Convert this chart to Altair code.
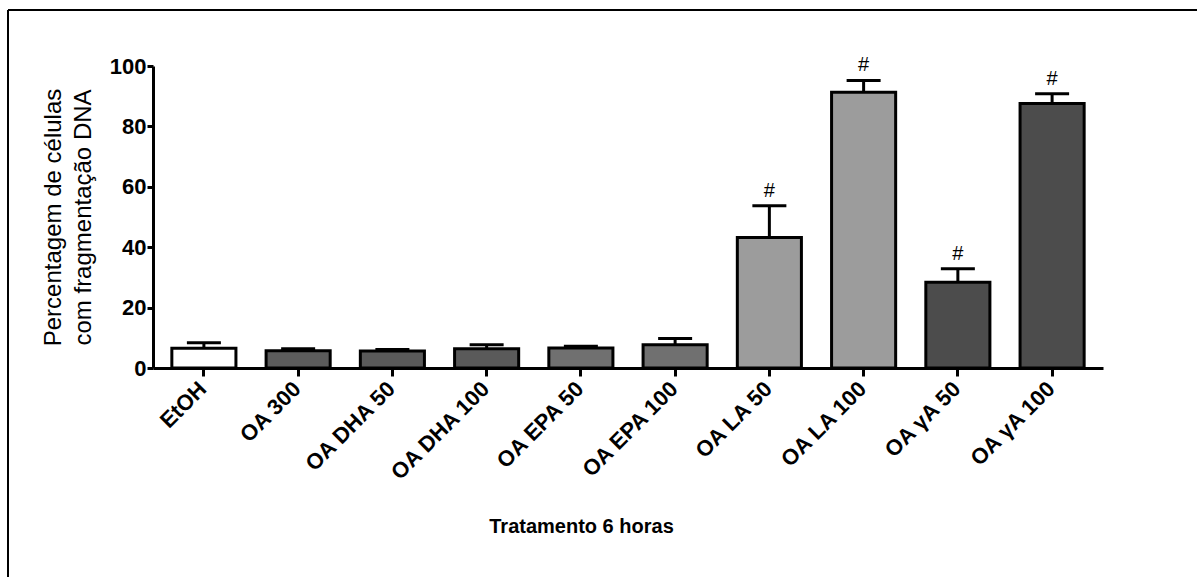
import altair as alt
import pandas as pd

# Treatments (6 h) and the percentage of cells with DNA fragmentation
categories = ["EtOH", "OA 300", "OA DHA 50", "OA DHA 100", "OA EPA 50",
              "OA EPA 100", "OA LA 50", "OA LA 100", "OA γA 50", "OA γA 100"]
means = [6.5, 5.7, 5.6, 6.4, 6.6, 7.7, 43.2, 91.3, 28.4, 87.6]
sem = [1.9, 0.7, 0.5, 1.3, 0.6, 2.1, 10.5, 3.9, 4.5, 3.2]
signif = ["", "", "", "", "", "", "#", "#", "#", "#"]
fills = ["#ffffff", "#5c5c5c", "#5a5a5a", "#5a5a5a", "#707070",
         "#707070", "#9c9c9c", "#9c9c9c", "#4c4c4c", "#4c4c4c"]

df = pd.DataFrame({
    "cat": categories,
    "mean": means,
    "upper": [m + s for m, s in zip(means, sem)],
    "sig": signif,
})

FONT = "Liberation Sans"
W, H = 950, 302

x = alt.X(
    "cat:N",
    sort=categories,
    scale=alt.Scale(paddingInner=0.32, paddingOuter=0.2),
    axis=alt.Axis(
        title="Tratamento 6 horas",
        labelAngle=-45, labelAlign="right", labelBaseline="middle",
        labelFont=FONT, labelFontSize=22, labelFontWeight="bold",
        labelColor="black", labelPadding=9, labelOffset=-1,
        titleFont=FONT, titleFontSize=20, titleFontWeight="bold",
        titleColor="black", titleY=148, titleX=428,
        domainColor="black", domainWidth=3,
        tickColor="black", tickWidth=3, tickSize=8,
    ),
)
y_scale = alt.Scale(domain=[0, 100], nice=False)

bars = alt.Chart(df).mark_bar(stroke="black", strokeWidth=3).encode(
    x=x,
    y=alt.Y(
        "mean:Q",
        scale=y_scale,
        axis=alt.Axis(
            title=["Percentagem de células", "com fragmentação DNA"],
            values=[0, 20, 40, 60, 80, 100],
            labelFont=FONT, labelFontSize=22, labelFontWeight="bold",
            labelColor="black", labelPadding=1,
            titleFont=FONT, titleFontSize=24, titleFontWeight="normal",
            titleColor="black", titleX=-100, titleY=151,
            titleAlign="center", titleBaseline="middle", titleLineHeight=30,
            domainColor="black", domainWidth=3,
            tickColor="black", tickWidth=3, tickSize=6,
            grid=False,
        ),
    ),
    fill=alt.Fill("cat:N", scale=alt.Scale(domain=categories, range=fills),
                  legend=None),
)

err = alt.Chart(df).mark_rule(color="black", strokeWidth=3, opacity=1).encode(
    x=alt.X("cat:N", sort=categories),
    y=alt.Y("mean:Q", scale=y_scale),
    y2="upper:Q",
)

caps = alt.Chart(df).mark_tick(color="black", thickness=3, size=34,
                               opacity=1, orient="horizontal").encode(
    x=alt.X("cat:N", sort=categories),
    y=alt.Y("upper:Q", scale=y_scale),
)

stars = alt.Chart(df).mark_text(font=FONT, fontSize=20, baseline="bottom",
                                dy=-5, color="black").encode(
    x=alt.X("cat:N", sort=categories),
    y=alt.Y("upper:Q", scale=y_scale),
    text="sig:N",
)

# Outer frame (top and left edges)
frame_top = alt.Chart(df).mark_rule(color="black", strokeWidth=2).encode(
    x=alt.value(-145), x2=alt.value(1100), y=alt.value(-56))
frame_left = alt.Chart(df).mark_rule(color="black", strokeWidth=2).encode(
    x=alt.value(-145), y=alt.value(-56), y2=alt.value(520))

chart = alt.layer(bars, err, caps, stars, frame_top, frame_left).properties(
    width=W, height=H,
    autosize=alt.AutoSizeParams(type="none"),
    padding={"left": 153, "top": 66, "right": 94, "bottom": 209},
    background="white",
).configure_view(stroke=None)

chart.save("out.html", embed_options={"renderer": "svg", "actions": False})
